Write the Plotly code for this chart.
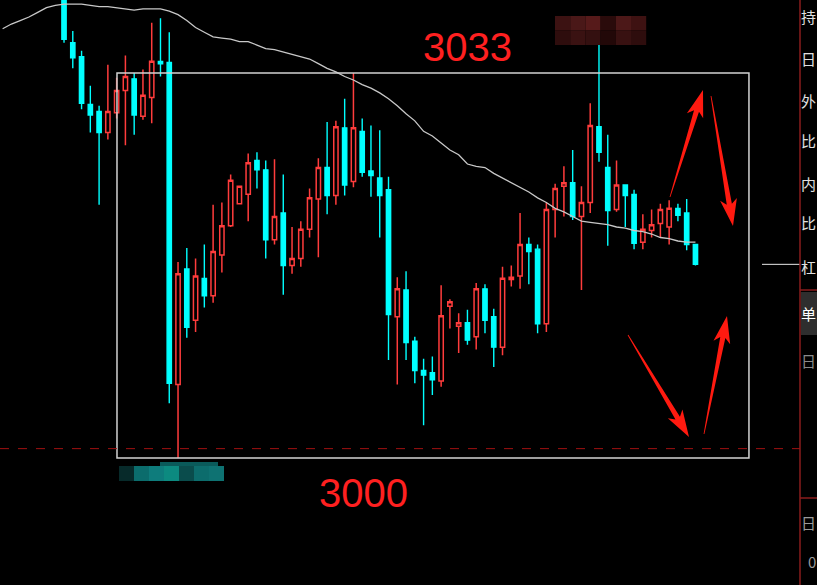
import plotly.graph_objects as go

# ---------------- data (prices) ----------------
idx = list(range(73))
open_ = [3040.1, 3035.6, 3034.4, 3030.3, 3029.7, 3027.9, 3029.6, 3031.5, 3032.5, 3029.3,
         3030.9, 3034.0, 3033.9, 3006.3, 3016.2, 3011.8, 3015.4, 3013.9, 3017.4, 3019.9,
         3021.8, 3022.6, 3025.5, 3024.7, 3018.7, 3021.0, 3016.5, 3017.1, 3019.6, 3022.2,
         3024.9, 3022.5, 3028.3, 3023.7, 3028.0, 3024.6, 3024.0, 3023.0, 3012.1, 3014.4,
         3010.0, 3007.5, 3007.3, 3006.6, 3013.0, 3011.3, 3011.6, 3010.4, 3014.5, 3012.1,
         3009.5, 3015.3, 3015.6, 3018.3, 3017.9, 3011.5, 3021.3, 3023.3, 3023.6, 3020.7,
         3021.9, 3028.4, 3024.9, 3021.3, 3023.4, 3022.6, 3018.5, 3019.5, 3020.1, 3019.8,
         3021.4, 3021.0, 3018.3]
high = [3040.5, 3036.6, 3034.9, 3031.9, 3030.2, 3033.7, 3032.6, 3034.5, 3033.0, 3033.3,
        3037.3, 3037.7, 3036.5, 3016.8, 3018.0, 3017.1, 3018.3, 3021.7, 3021.9, 3024.3,
        3023.3, 3026.1, 3026.2, 3025.5, 3025.6, 3024.3, 3019.8, 3020.3, 3023.1, 3025.7,
        3028.8, 3028.9, 3030.8, 3033.0, 3029.1, 3028.5, 3028.1, 3024.1, 3015.5, 3016.0,
        3010.4, 3008.5, 3008.7, 3014.8, 3013.6, 3012.4, 3012.7, 3015.0, 3014.9, 3012.8,
        3016.4, 3016.5, 3021.0, 3018.9, 3018.3, 3021.9, 3023.5, 3025.0, 3026.4, 3023.3,
        3030.4, 3035.6, 3027.7, 3025.5, 3023.4, 3023.0, 3020.9, 3021.3, 3021.8, 3022.1,
        3021.8, 3022.2, 3018.3]
low = [3035.6, 3033.4, 3029.9, 3027.9, 3021.7, 3027.3, 3029.1, 3026.8, 3027.7, 3029.0,
       3028.7, 3032.7, 3004.7, 3000.0, 3010.3, 3010.8, 3012.9, 3013.3, 3015.9, 3019.8,
       3021.8, 3020.3, 3023.1, 3017.1, 3018.3, 3014.0, 3015.8, 3016.4, 3018.9, 3017.2,
       3020.9, 3021.7, 3022.5, 3023.2, 3024.1, 3022.4, 3018.9, 3008.4, 3006.3, 3008.4,
       3006.4, 3002.8, 3005.4, 3006.1, 3011.1, 3009.0, 3009.7, 3009.3, 3010.7, 3007.8,
       3008.8, 3014.7, 3014.5, 3014.9, 3010.7, 3010.8, 3018.9, 3020.7, 3020.4, 3014.4,
       3021.0, 3025.4, 3018.2, 3021.1, 3019.8, 3017.9, 3017.9, 3018.9, 3018.9, 3018.3,
       3020.3, 3017.8, 3016.5]
close = [3035.9, 3034.3, 3030.4, 3029.4, 3027.9, 3029.7, 3031.5, 3032.7, 3029.4, 3031.1,
         3034.0, 3033.8, 3006.4, 3015.8, 3011.2, 3015.6, 3013.9, 3017.7, 3019.9, 3023.8,
         3023.3, 3025.3, 3024.7, 3018.7, 3020.7, 3016.5, 3017.1, 3019.6, 3022.3, 3024.9,
         3022.5, 3028.4, 3023.4, 3028.3, 3024.5, 3024.2, 3022.5, 3012.3, 3014.5, 3009.9,
         3007.5, 3007.1, 3006.7, 3012.2, 3013.4, 3011.6, 3010.1, 3014.5, 3011.8, 3009.5,
         3015.4, 3015.5, 3018.3, 3017.7, 3011.5, 3021.3, 3023.1, 3023.6, 3020.7, 3021.9,
         3028.5, 3026.2, 3021.2, 3023.4, 3022.5, 3018.4, 3019.6, 3020.0, 3021.3, 3021.4,
         3020.8, 3018.3, 3016.6]

ma_x = list(range(-7, 73))
ma_y = [3036.8, 3037.2, 3037.5, 3037.8, 3038.2, 3038.6, 3038.8,
        3038.9, 3038.9, 3038.9, 3038.8, 3038.7, 3038.7, 3038.6, 3038.5, 3038.4, 3038.5,
        3038.5, 3038.5, 3038.3, 3038.0, 3037.5, 3036.9, 3036.5, 3036.1, 3036.0, 3035.9,
        3035.7, 3035.7, 3035.4, 3035.1, 3035.0, 3034.8, 3034.6, 3034.4, 3034.2, 3033.8,
        3033.4, 3033.1, 3032.7, 3032.4, 3032.0, 3031.7, 3031.3, 3030.8, 3030.2, 3029.5,
        3028.9, 3028.0, 3027.6, 3027.0, 3026.4, 3026.0, 3025.2, 3025.0, 3024.9, 3024.4,
        3024.0, 3023.6, 3023.2, 3022.8, 3022.3, 3021.9, 3021.4, 3021.1, 3020.7, 3020.3,
        3020.2, 3020.1, 3020.0, 3019.8, 3019.7, 3019.5, 3019.4, 3019.2, 3018.9, 3018.8,
        3018.6, 3018.5, 3018.5]

level_high = 3033
level_low = 3000
dash_level = 3000.8
box_x = [6.04, 78.1]
side_labels = ["持", "日", "外", "比", "内", "比", "杠"]
side_labels_low = ["单", "日", "日", "0"]

W, H = 817, 585
def px(x):
    return x / W
def py(y):
    return 1 - y / H

RED = "#ff3c3c"
CYAN = "#00ffff"

fig = go.Figure()
fig.add_trace(go.Scatter(x=ma_x, y=ma_y, mode="lines",
                         line=dict(color="#c8c8c8", width=1.3), hoverinfo="skip", showlegend=False))
fig.add_trace(go.Candlestick(
    x=idx, open=open_, high=high, low=low, close=close,
    increasing=dict(line=dict(color=RED, width=1.5), fillcolor="#000000"),
    decreasing=dict(line=dict(color=CYAN, width=1.4), fillcolor=CYAN),
    whiskerwidth=0, showlegend=False, hoverinfo="skip"))

shapes = []
shapes.append(dict(type="rect", xref="x", yref="y", x0=box_x[0], x1=box_x[1],
                   y0=level_low, y1=level_high, line=dict(color="#d2d2d2", width=1.5)))
shapes.append(dict(type="line", xref="paper", yref="y", x0=0, x1=px(800), y0=dash_level, y1=dash_level,
                   line=dict(color="#a01010", width=1, dash="dash")))
shapes.append(dict(type="line", xref="paper", yref="y", x0=px(762), x1=px(800), y0=close[-1], y1=close[-1],
                   line=dict(color="#e8e8e8", width=1)))
shapes.append(dict(type="rect", xref="paper", yref="paper", x0=px(801), x1=px(817), y0=py(335), y1=py(292),
                   fillcolor="#2e2e2e", line=dict(width=0)))
shapes.append(dict(type="line", xref="paper", yref="paper", x0=px(800), x1=px(800), y0=0, y1=1,
                   line=dict(color="#8a1c1c", width=1.5)))
for yy in (290, 498):
    shapes.append(dict(type="line", xref="paper", yref="paper", x0=px(800), x1=1, y0=py(yy), y1=py(yy),
                       line=dict(color="#8a1c1c", width=1.5)))

top_cols = [["#3c1212", "#4a1818", "#561a1a", "#2a0b0b", "#4c1818", "#3e1212"],
            ["#2e0d0d", "#3a1212", "#341010", "#220808", "#381111", "#2e0d0d"]]
for r, row in enumerate(top_cols):
    for c, col in enumerate(row):
        x0 = 555 + c * 15.2
        y0 = 16 + r * 14.5
        shapes.append(dict(type="rect", xref="paper", yref="paper", x0=px(x0), x1=px(x0 + 15.2),
                           y0=py(y0 + 14.5), y1=py(y0), fillcolor=col, line=dict(width=0)))
bot_cols = ["#072a2a", "#0b6c6c", "#0e7c7c", "#0c8a80", "#0a4c4c", "#0c6c6c", "#0e7272"]
for c, col in enumerate(bot_cols):
    x0 = 119 + c * 15
    shapes.append(dict(type="rect", xref="paper", yref="paper", x0=px(x0), x1=px(x0 + 15),
                       y0=py(481), y1=py(466), fillcolor=col, line=dict(width=0)))
shapes.append(dict(type="rect", xref="paper", yref="paper", x0=px(160), x1=px(218),
                   y0=py(466), y1=py(462), fillcolor="#0a5a5a", line=dict(width=0)))

def arrow_path(tx, ty, hx, hy, head=22, hw=8.5, sw=2.6, tw=0.4, sweep=5):
    dx, dy = hx - tx, hy - ty
    L = (dx * dx + dy * dy) ** 0.5
    ux, uy = dx / L, dy / L
    nx, ny = -uy, ux
    bx, by = hx - ux * head, hy - uy * head
    pts = [(tx + nx * tw, ty + ny * tw),
           (bx + nx * sw, by + ny * sw),
           (bx - ux * sweep + nx * hw, by - uy * sweep + ny * hw),
           (hx, hy),
           (bx - ux * sweep - nx * hw, by - uy * sweep - ny * hw),
           (bx - nx * sw, by - ny * sw),
           (tx - nx * tw, ty - ny * tw)]
    return "M " + " L ".join(f"{px(a):.5f},{py(b):.5f}" for a, b in pts) + " Z"

for (tx, ty, hx, hy) in [(670, 197, 703, 90), (711, 96, 733, 226), (628, 335, 689, 437), (704, 434, 727, 316)]:
    shapes.append(dict(type="path", xref="paper", yref="paper", path=arrow_path(tx, ty, hx, hy),
                       fillcolor="#ff1a10", line=dict(width=0)))

annotations = [
    dict(text=str(level_high), x=px(467), y=py(47), xref="paper", yref="paper", showarrow=False,
         font=dict(family="Liberation Sans", size=40, color="#ff2020"), xanchor="center", yanchor="middle"),
    dict(text=str(level_low), x=px(363), y=py(493), xref="paper", yref="paper", showarrow=False,
         font=dict(family="Liberation Sans", size=40, color="#ff2020"), xanchor="center", yanchor="middle"),
]
for t, yy in zip(side_labels, [16, 59, 100, 140, 183, 222, 267]):
    annotations.append(dict(text=t, x=1, y=py(yy), xref="paper", yref="paper", showarrow=False,
                            xanchor="right", yanchor="middle", borderpad=0,
                            font=dict(family="Noto Sans CJK SC", size=15, color="#e0e0e0")))
for t, yy, colr in zip(side_labels_low, [313, 360, 522, 561], ["#ffffff", "#8a8a8a", "#9a9a9a", "#9a9a9a"]):
    annotations.append(dict(text=t, x=1, y=py(yy), xref="paper", yref="paper", showarrow=False,
                            xanchor="right", yanchor="middle", borderpad=0,
                            font=dict(family="Noto Sans CJK SC", size=15, color=colr)))

fig.update_layout(
    width=W, height=H, margin=dict(l=0, r=0, t=0, b=0),
    paper_bgcolor="#000000", plot_bgcolor="#000000",
    xaxis=dict(domain=[0, px(800)], range=[-7.3, 83.92], visible=False, rangeslider=dict(visible=False)),
    yaxis=dict(domain=[0, 1], range=[2989.11, 3039.26], visible=False),
    shapes=shapes, annotations=annotations, showlegend=False,
)
fig.write_html("out.html", config={"displayModeBar": False},
               post_script="document.body.style.margin='0';document.body.style.padding='0';"
                           "document.body.style.overflow='hidden';document.body.style.background='#000';")
